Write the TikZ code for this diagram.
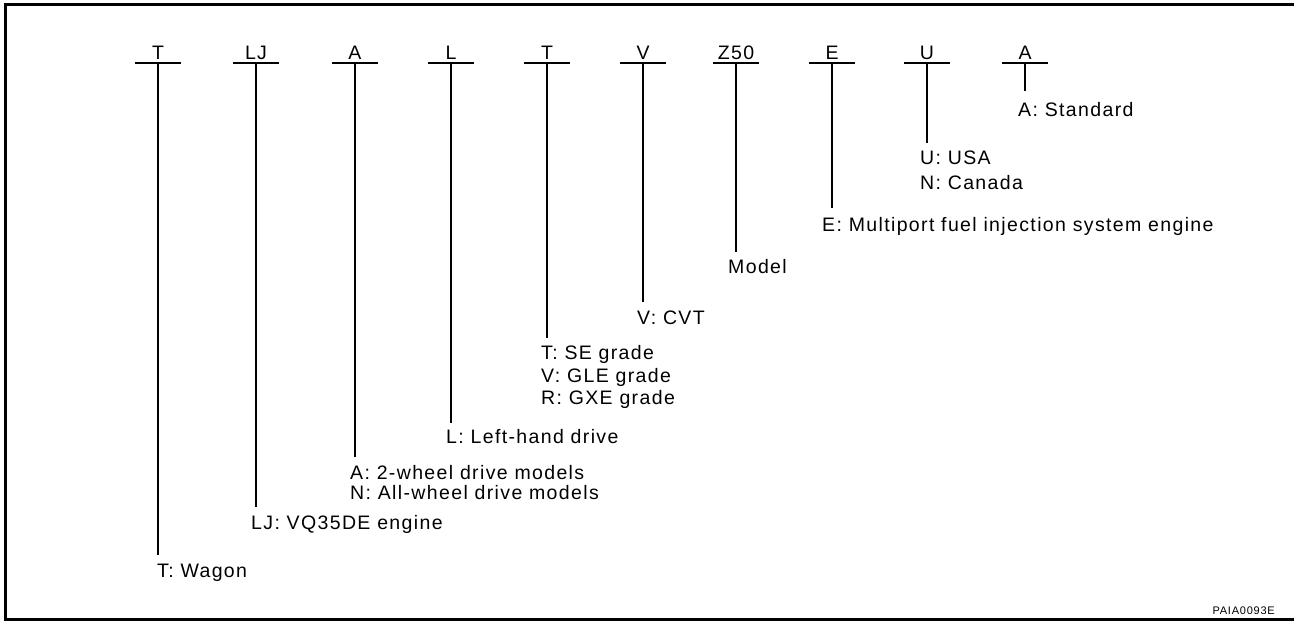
\documentclass[tikz,border=0pt]{standalone}
\usepackage{fontspec}
\setmainfont[LetterSpace=7]{Liberation Sans}
\begin{document}
\begin{tikzpicture}[x=1pt,y=-1pt,
  lbl/.style={font=\fontsize{19.5}{22}\selectfont,inner sep=0pt,anchor=base west},
  code/.style={font=\fontsize{19.5}{22}\selectfont,inner sep=0pt,anchor=base},
  ln/.style={line width=1.6pt},
  frame/.style={line width=3pt}]
\useasboundingbox (0,0) rectangle (1294,621);
\draw[frame] (1294,4.5) -- (5.5,4.5) -- (5.5,619.5) -- (1294,619.5);
% header codes: name, x, stem end
\foreach \n/\t/\x/\e in {c1/T/158/555, c2/LJ/256/507, c3/A/355/457, c4/L/451/423, c5/T/547/338, c6/V/643/302, c7/Z50/736/252, c8/E/832/208, c9/U/927/143, c10/A/1025/91}{
  \node[code] (\n) at (\x,59) {\t};
  \coordinate (\n l) at (\x-23,63);
  \coordinate (\n r) at (\x+23,63);
  \coordinate (\n m) at (\x,63);
  \coordinate (\n e) at (\x,\e);
  \draw[ln] (\n l) -- (\n r);
  \draw[ln] (\n m) -- (\n e);
}
\node[lbl] (d1) at (157,577) {T: Wagon};
\node[lbl] (d2) at (251,529) {LJ: VQ35DE engine};
\node[lbl] (d3a) at (350,479) {A: 2-wheel drive models};
\node[lbl] (d3b) at (350,499) {N: All-wheel drive models};
\node[lbl] (d4) at (446,443) {L: Left-hand drive};
\node[lbl] (d5a) at (541,359) {T: SE grade};
\node[lbl] (d5b) at (541,382) {V: GLE grade};
\node[lbl] (d5c) at (541,404) {R: GXE grade};
\node[lbl] (d6) at (637,324) {V: CVT};
\node[lbl] (d7) at (728,273) {Model};
\node[lbl] (d8) at (822,231) {E: Multiport fuel injection system engine};
\node[lbl] (d9a) at (920,164) {U: USA};
\node[lbl] (d9b) at (920,189) {N: Canada};
\node[lbl] (d10) at (1018,116) {A: Standard};
\node[font=\fontsize{11}{13}\selectfont,inner sep=0pt,anchor=base east] (ref) at (1275,614) {PAIA0093E};
\end{tikzpicture}
\end{document}
